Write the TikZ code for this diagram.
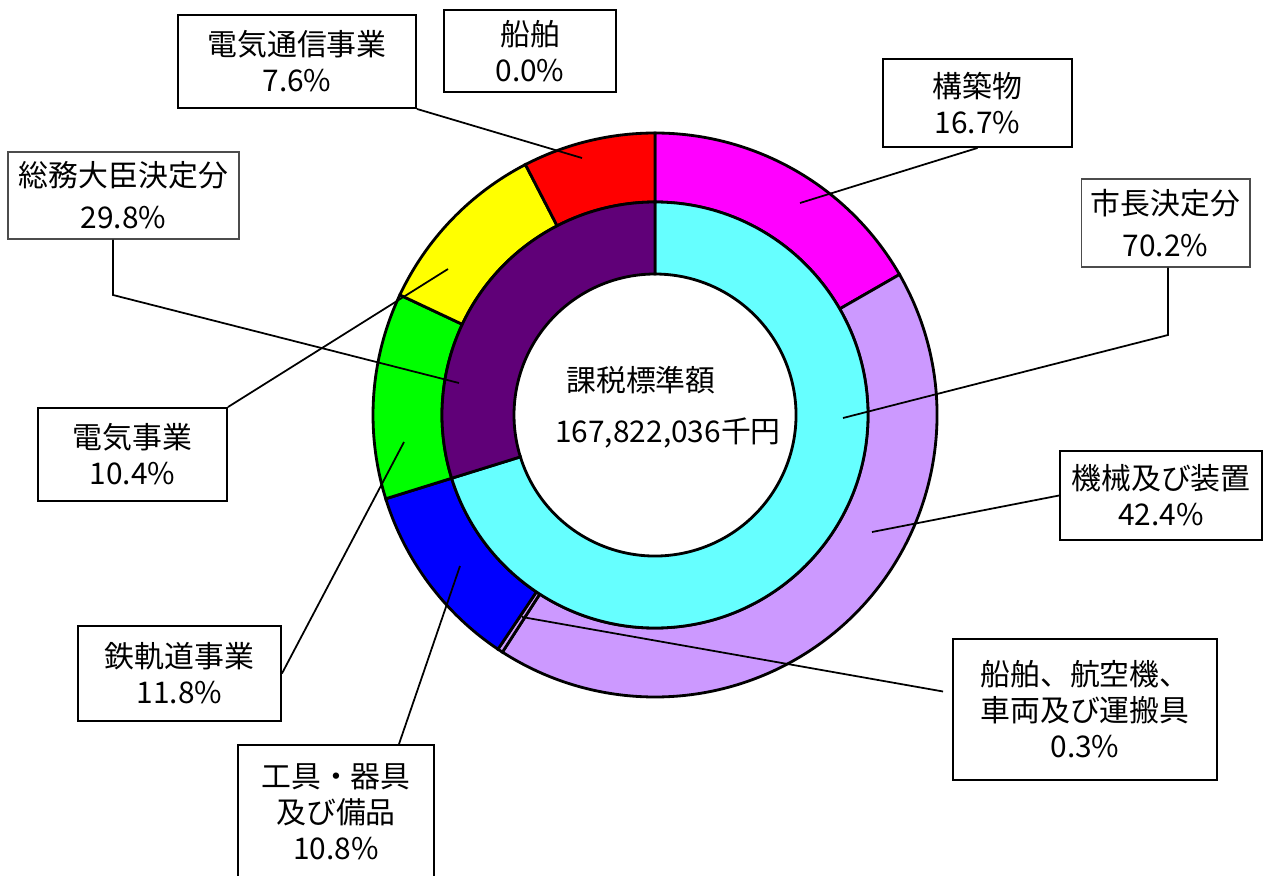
\documentclass[tikz,border=0pt]{standalone}
\usepackage{fontspec}
\setmainfont{Noto Sans CJK JP}
\definecolor{kouchikucol}{RGB}{255,0,255}
\definecolor{kikaicol}{RGB}{204,153,255}
\definecolor{kougucol}{RGB}{0,0,255}
\definecolor{tetsudocol}{RGB}{0,255,0}
\definecolor{denkicol}{RGB}{255,255,0}
\definecolor{tsushincol}{RGB}{255,0,0}
\definecolor{shichocol}{RGB}{102,255,255}
\definecolor{somucol}{RGB}{96,0,120}
\def\ringpart[#1](#2:#3:#4:#5){\draw[#1] (#2:#4) arc (#2:#3:#4) -- (#3:#5) arc (#3:#2:#5) -- cycle;}
\tikzset{
	lbl/.style={draw, line width=1.1pt, align=center, inner sep=0pt, font=\fontsize{17}{20.5}\selectfont},
	lblthin/.style={draw=black!70, line width=0.6pt, align=center, inner sep=0pt, font=\fontsize{17}{24}\selectfont},
	leader/.style={line width=1pt},
	ringedge/.style={line width=1.6pt}
}
\begin{document}
\begin{tikzpicture}[x=0.02cm, y=-0.02cm]
		%%%%% START %%%%%
		\useasboundingbox (0,0) rectangle (1277,875);
		
		\begin{scope}[shift={(655,415)}, yscale=-1]
		% outer ring
		\ringpart[ringedge, fill=kouchikucol](90:29.88:282:213);
		\ringpart[ringedge, fill=kikaicol](29.88:-122.76:282:213);
		\ringpart[ringedge, fill=kikaicol](-122.76:-123.84:282:213);
		\ringpart[ringedge, fill=kougucol](-123.84:-162.72:282:213);
		\ringpart[ringedge, fill=tetsudocol](-162.72:-205.2:282:213);
		\ringpart[ringedge, fill=denkicol](-205.2:-242.64:282:213);
		\ringpart[ringedge, fill=tsushincol](-242.64:-270:282:213);
		% inner ring
		\ringpart[ringedge, fill=shichocol](90:-162.72:213:141);
		\ringpart[ringedge, fill=somucol](-162.72:-270:213:141);
		\end{scope}
		
		\node[font=\fontsize{17}{20.5}\selectfont] (kazei) at (641,380) {課税標準額};
		\node[font=\fontsize{17}{20.5}\selectfont] (kingaku) at (668,433) {167,822,036千円};
		
		\node[lbl, minimum width=4.76cm, minimum height=1.86cm] (tsushin) at (297,61.5) {電気通信事業\\7.6\%};
		\node[lbl, minimum width=3.44cm, minimum height=1.64cm] (senpaku) at (530,51) {船舶\\0.0\%};
		\node[lbl, minimum width=3.78cm, minimum height=1.76cm] (kouchiku) at (977.5,103) {構築物\\16.7\%};
		\node[lblthin, minimum width=3.38cm, minimum height=1.76cm] (shicho) at (1165.5,223) {市長決定分\\70.2\%};
		\node[lblthin, minimum width=4.62cm, minimum height=1.74cm] (somu) at (123.5,195.5) {総務大臣決定分\\29.8\%};
		\node[lbl, minimum width=3.78cm, minimum height=1.86cm] (denki) at (132.5,454.5) {電気事業\\10.4\%};
		\node[lbl, minimum width=4.04cm, minimum height=1.78cm] (kikai) at (1161,495.5) {機械及び装置\\42.4\%};
		\node[lbl, minimum width=4.06cm, minimum height=1.9cm] (tetsudo) at (179.5,673.5) {鉄軌道事業\\11.8\%};
		\node[lbl, minimum width=5.28cm, minimum height=2.82cm] (sharyo) at (1085,709.5) {船舶、航空機、\\車両及び運搬具\\0.3\%};
		\node[lbl, minimum width=3.92cm, minimum height=2.68cm] (kougu) at (336,812) {工具・器具\\及び備品\\10.8\%};
		
		\coordinate (tsushinpt) at (582,158);
		\coordinate (kouchikupt) at (800,203);
		\coordinate (shichoknee) at (1168,335);
		\coordinate (shichopt) at (843,418);
		\coordinate (somuknee) at (113,295);
		\coordinate (somupt) at (459,383);
		\coordinate (denkipt) at (448,269);
		\coordinate (kikaipt) at (872,532);
		\coordinate (tetsudopt) at (404,442);
		\coordinate (sharyopt) at (522,617);
		\coordinate (kougupt) at (460,566);
		
		\draw[leader] (tsushin.south east) -- (tsushinpt);
		\draw[leader] (kouchiku.south) -- (kouchikupt);
		\draw[leader] (shicho.south -| shichoknee) -- (shichoknee) -- (shichopt);
		\draw[leader] (somu.south -| somuknee) -- (somuknee) -- (somupt);
		\draw[leader] (denki.north east) -- (denkipt);
		\draw[leader] (kikai.west) -- (kikaipt);
		\draw[leader] (tetsudo.east) -- (tetsudopt);
		\draw[leader] ([shift={(-9,-18)}]sharyo.west) -- (sharyopt);
		\draw[leader] ([xshift=1.26cm]kougu.north) -- (kougupt);
		
		%%%%% END %%%%%
	\end{tikzpicture}
\end{document}
